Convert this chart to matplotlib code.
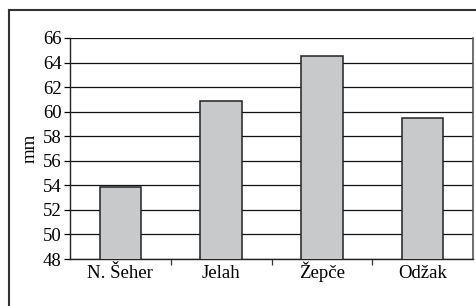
import numpy as np
import matplotlib.pyplot as plt
from matplotlib.lines import Line2D

plt.rcParams['font.family'] = ['Liberation Serif', 'DejaVu Serif']

places = ['N. Šeher', 'Jelah', 'Žepče', 'Odžak']
rain_mm = [53.9, 60.9, 64.5, 59.5]

fig = plt.figure(figsize=(4.77, 3.06), dpi=100)
ax = fig.add_axes([70 / 477, 1 - 259 / 306, 403 / 477, 221 / 306])

x = np.arange(len(places))
ax.bar(x, rain_mm, width=0.41, bottom=0, color='#c8c9cb', edgecolor='#222222',
       linewidth=1.1, zorder=3)

ax.set_ylim(48, 66)
ax.set_yticks(np.arange(48, 67, 2))
ax.set_xlim(-0.5, len(places) - 0.5)
ax.set_xticks(x)
ax.set_xticklabels(places, va='baseline')
ax.set_xticks(np.arange(0.5, len(places) - 0.5, 1), minor=True)
ax.tick_params(axis='x', which='major', length=0, pad=14, labelsize=13.5)
ax.tick_params(axis='x', which='minor', length=4, width=0.9, color='#333333')
ax.tick_params(axis='y', length=4, width=0.9, pad=2, labelsize=13.5)
ax.yaxis.grid(True, color='#111111', linewidth=0.9, zorder=0)
ax.set_axisbelow(True)
ax.set_ylabel('mm', fontsize=13.5, labelpad=3)

for side in ['left', 'bottom']:
    ax.spines[side].set_color('#222222')
    ax.spines[side].set_linewidth(1.0)
ax.spines['top'].set_visible(False)
ax.spines['right'].set_color('#555555')
ax.spines['right'].set_linewidth(1.2)

# outer chart frame (top and left edges visible)
fig.add_artist(Line2D([9.5 / 477, 9.5 / 477], [0, 1 - 10 / 306], color='#333333', linewidth=1.5))
fig.add_artist(Line2D([9.5 / 477, 1], [1 - 10 / 306, 1 - 10 / 306], color='#333333', linewidth=1.5))

fig.savefig('out.png', dpi=100)
